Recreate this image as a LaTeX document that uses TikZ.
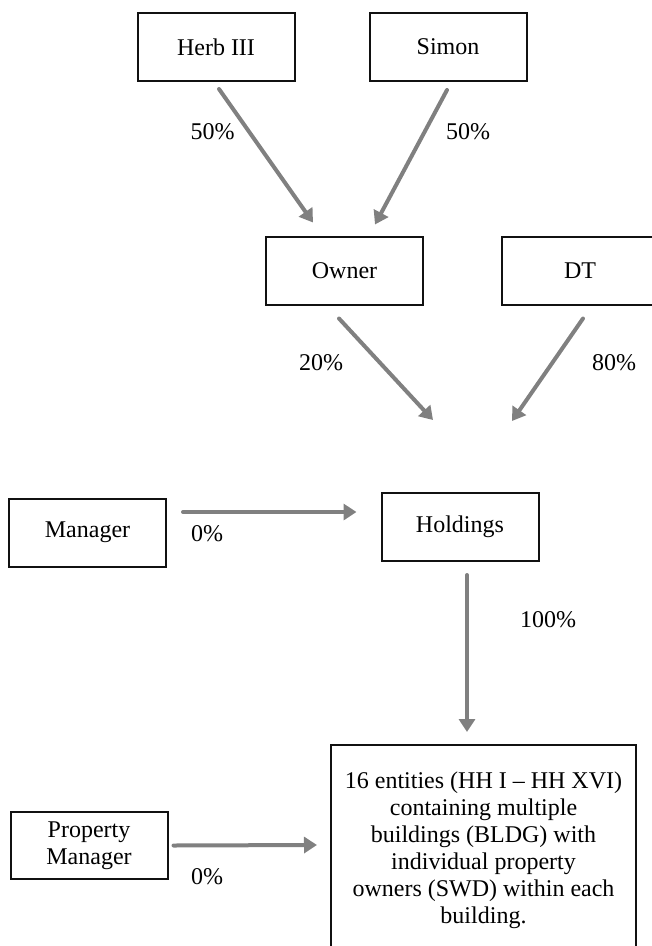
\documentclass[tikz,border=0pt]{standalone}
\usepackage{fontspec}
\setmainfont{Liberation Serif}
\usetikzlibrary{arrows.meta}
\definecolor{linkgray}{HTML}{808080}
\definecolor{boxline}{HTML}{111111}

\begin{document}
\begin{tikzpicture}[x=1pt, y=-1pt, line cap=round,
  entity/.style={draw=boxline, line width=2pt, minimum width=157pt,
    minimum height=68pt, inner sep=0pt, align=center,
    font=\fontsize{24}{27}\selectfont},
  share/.style={font=\fontsize{24}{27}\selectfont},
  link/.style={draw=linkgray, line width=4pt,
    -{Triangle[width=16pt,length=13pt]}}]

\useasboundingbox (0,0) rectangle (652,946);

% --- owners of Owner ---
\node[entity] (herb)  at (216,47) {Herb III};
\node[entity] (simon) at (448,47) {Simon};

% --- owners of Holdings ---
\node[entity] (owner) at (344.5,270.5) {Owner};
\node[entity] (dt)    at (580,270.5) {DT};

% --- middle row ---
\node[entity] (manager)  at (87.5,532.5) {Manager};
\node[entity] (holdings) at (460,527) {Holdings};

% --- bottom row ---
\node[entity, minimum height=67pt] (propman) at (89,845.5) {Property\\Manager};
\node[entity, anchor=north, minimum width=305pt, minimum height=210pt]
  (hh) at (483.5,744)
  {16 entities (HH I -- HH XVI)\\containing multiple\\buildings (BLDG) with\\
   individual property\\owners (SWD) within each\\building.};

% --- shares ---
\node[share] (s50a) at (212.5,132) {50\%};
\node[share] (s50b) at (468,132) {50\%};
\node[share] (s20)  at (321,363) {20\%};
\node[share] (s80)  at (614,363) {80\%};
\node[share] (s0a)  at (207,534) {0\%};
\node[share] (s100) at (548,620) {100\%};
\node[share] (s0b)  at (207,877) {0\%};

% --- links ---
\draw[link] ([shift={(3,7)}]herb.south)   -- ([shift={(-31.5,-13)}]owner.north);
\draw[link] ([shift={(-1,8)}]simon.south) -- ([shift={(30.5,-11)}]owner.north);
\draw[link] ([shift={(-5.5,13)}]owner.south) -- ([shift={(-27,-72)}]holdings.north);
\draw[link] ([shift={(3,13)}]dt.south)       -- ([shift={(52,-71)}]holdings.north);
\draw[link] ([shift={(16,-20.5)}]manager.east) -- ([shift={(-24,-15)}]holdings.west);
\draw[link] ([shift={(7,13)}]holdings.south)   -- ([shift={(-16.5,-12)}]hh.north);
\draw[link] ([shift={(5,0)}]propman.east)      -- ([shift={(-13,101)}]hh.north west);

\end{tikzpicture}
\end{document}
